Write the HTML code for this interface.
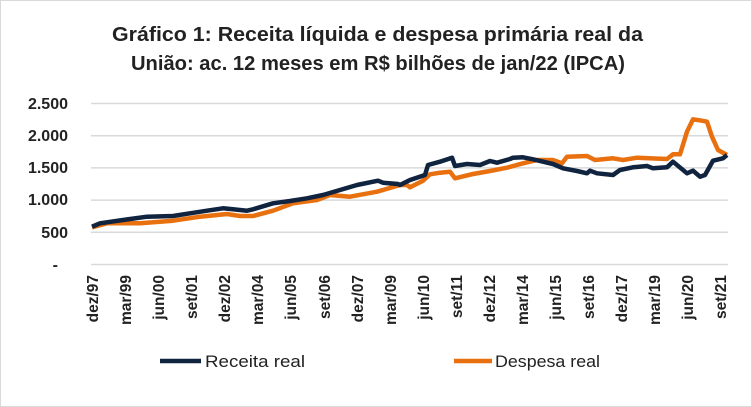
<!DOCTYPE html>
<html><head><meta charset="utf-8"><style>
body{margin:0;background:#fff}
svg{display:block;font-family:"Liberation Sans",sans-serif}
</style></head><body>
<svg width="752" height="407" viewBox="0 0 752 407">
<rect x="0.5" y="0.5" width="751" height="406" fill="#fff" stroke="#d9d9d9"/>
<text x="112" y="41" font-size="20" font-weight="bold" fill="#222" textLength="531" lengthAdjust="spacingAndGlyphs">Gráfico 1: Receita líquida e despesa primária real da</text>
<text x="131" y="70" font-size="20" font-weight="bold" fill="#222" textLength="494" lengthAdjust="spacingAndGlyphs">União: ac. 12 meses em R$ bilhões de jan/22 (IPCA)</text>
<g stroke="#d9d9d9" stroke-width="1.5">
<line x1="91" x2="728" y1="103.5" y2="103.5"/><line x1="91" x2="728" y1="135.7" y2="135.7"/>
<line x1="91" x2="728" y1="167.9" y2="167.9"/><line x1="91" x2="728" y1="200.1" y2="200.1"/>
<line x1="91" x2="728" y1="232.3" y2="232.3"/><line x1="91" x2="728" y1="264.5" y2="264.5"/>
</g>
<g font-size="16" font-weight="bold" fill="#222" text-anchor="end">
<text x="68" y="109">2.500</text><text x="68" y="141">2.000</text><text x="68" y="173">1.500</text>
<text x="68" y="205">1.000</text><text x="68" y="238">500</text><text x="58" y="270">-</text>
</g>
<g font-size="15.5" font-weight="bold" fill="#222" text-anchor="end">
<text transform="translate(98,275) rotate(-90)">dez/97</text>
<text transform="translate(131,275) rotate(-90)">mar/99</text>
<text transform="translate(164,275) rotate(-90)">jun/00</text>
<text transform="translate(197,275) rotate(-90)">set/01</text>
<text transform="translate(230,275) rotate(-90)">dez/02</text>
<text transform="translate(263,275) rotate(-90)">mar/04</text>
<text transform="translate(296,275) rotate(-90)">jun/05</text>
<text transform="translate(330,275) rotate(-90)">set/06</text>
<text transform="translate(363,275) rotate(-90)">dez/07</text>
<text transform="translate(396,275) rotate(-90)">mar/09</text>
<text transform="translate(429,275) rotate(-90)">jun/10</text>
<text transform="translate(462,275) rotate(-90)">set/11</text>
<text transform="translate(495,275) rotate(-90)">dez/12</text>
<text transform="translate(528,275) rotate(-90)">mar/14</text>
<text transform="translate(561,275) rotate(-90)">jun/15</text>
<text transform="translate(594,275) rotate(-90)">set/16</text>
<text transform="translate(627,275) rotate(-90)">dez/17</text>
<text transform="translate(660,275) rotate(-90)">mar/19</text>
<text transform="translate(693,275) rotate(-90)">jun/20</text>
<text transform="translate(726,275) rotate(-90)">set/21</text>
</g>
<polyline fill="none" stroke="#e8700f" stroke-width="4.5" stroke-linejoin="round" points="92,227.3 107,223.3 140,223.3 173,220.7 200,216.7 227,214 240,216 253,216 273,210.7 293,203.3 317,200 330,195 350,196.7 377,191.7 400,185 407,185 410,187.3 423,180.7 430,174.3 440,172.7 450,171.7 455,178.3 473,174 490,171 507,167.7 523,163.3 537,160 553,160 562,163.3 567,156.7 587,156 595,160 613,158.3 623,160 637,157.7 667,159 673,154.3 680,154.3 687,131.7 693,119.3 702,120.7 707,121.7 712,136.7 718,150 727,155"/>
<polyline fill="none" stroke="#10233f" stroke-width="4.5" stroke-linejoin="round" points="92,226.7 100,223.3 123,220 147,216.7 173,216 190,213.3 207,210.7 223,208.3 233,209.3 247,210.7 253,209.3 273,203.3 290,201 307,198.3 323,195 340,190 357,185 378,180.7 383,182.7 398,184 400,185 410,180 425,175 428,165 440,161.7 452,157.7 455,166 467,164 480,165 490,161 497,162.7 510,159 513,157.7 523,157.3 533,159.3 553,164 563,168.3 577,171 587,173.3 590,170.7 597,173.3 613,175 620,170 633,167.3 647,166 653,168.3 667,167.3 673,161.7 687,173.3 693,170.7 700,176.7 705,175 713,160.7 723,158.3 727,155"/>
<line x1="160" x2="201" y1="361" y2="361" stroke="#10233f" stroke-width="4.5"/>
<text x="205" y="367" font-size="17" fill="#222" textLength="100" lengthAdjust="spacingAndGlyphs">Receita real</text>
<line x1="454" x2="492" y1="361" y2="361" stroke="#e8700f" stroke-width="4.5"/>
<text x="495" y="367" font-size="17" fill="#222" textLength="105" lengthAdjust="spacingAndGlyphs">Despesa real</text>
</svg>
</body></html>
